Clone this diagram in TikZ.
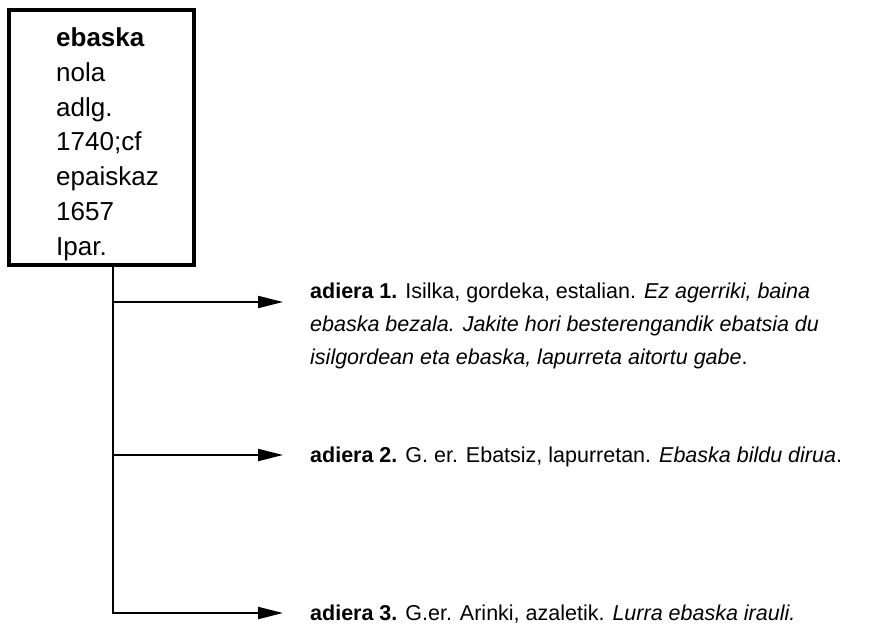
\documentclass[tikz,border=0pt]{standalone}
\usepackage{fontspec}
\setmainfont{Liberation Sans}
\usetikzlibrary{arrows.meta}

\tikzset{
  headbox/.style={draw, line width=3.5pt, minimum width=185pt, minimum height=255pt,
    anchor=north west, inner sep=0pt},
  lemma/.style={anchor=base west, align=left, inner sep=0pt,
    font=\fontsize{26}{34.7}\selectfont},
  sense/.style={anchor=base west, align=left, inner sep=0pt,
    font=\fontsize{21.5}{33}\selectfont},
  trunk/.style={line width=2pt},
  branch/.style={line width=2pt, -{Triangle[length=25pt, width=12pt]}},
}

\begin{document}
\begin{tikzpicture}[x=1pt, y=1pt]
\useasboundingbox (0,0) rectangle (891,-627);

% entry box; the lemma block is placed by the baseline of its last line
\node[headbox] (head) at (7,-8) {};
\node[lemma] (lemma) at (56,-255)
  {\textbf{ebaska}\\nola\\adlg.\\1740;cf\\epaiskaz\\1657\\Ipar.};

% junction points on the trunk
\coordinate (t0) at (113,-263);
\coordinate (j1) at (113,-302);
\coordinate (j2) at (113,-455);
\coordinate (j3) at (113,-613);

% sense texts (anchored at the baseline of their last line)
\node[sense] (s1) at (310,-364)
  {\textbf{adiera 1.} Isilka, gordeka, estalian. \textit{Ez agerriki, baina}\\
   \textit{ebaska bezala. Jakite hori besterengandik ebatsia du}\\
   \textit{isilgordean eta ebaska, lapurreta aitortu gabe}.};
\node[sense] (s2) at (310,-462)
  {\textbf{adiera 2.} G. er. Ebatsiz, lapurretan. \textit{Ebaska bildu dirua}.};
\node[sense] (s3) at (310,-620)
  {\textbf{adiera 3.} G.er. Arinki, azaletik. \textit{Lurra ebaska irauli.}};

% arrow tips
\coordinate (e1) at (283,-302);
\coordinate (e2) at (283,-455);
\coordinate (e3) at (283,-613);

% connectors
\draw[trunk] (t0) -- (j3);
\draw[branch] (j1) -- (e1);
\draw[branch] (j2) -- (e2);
\draw[branch] ([xshift=-1pt]j3) -- (e3);
\end{tikzpicture}
\end{document}
